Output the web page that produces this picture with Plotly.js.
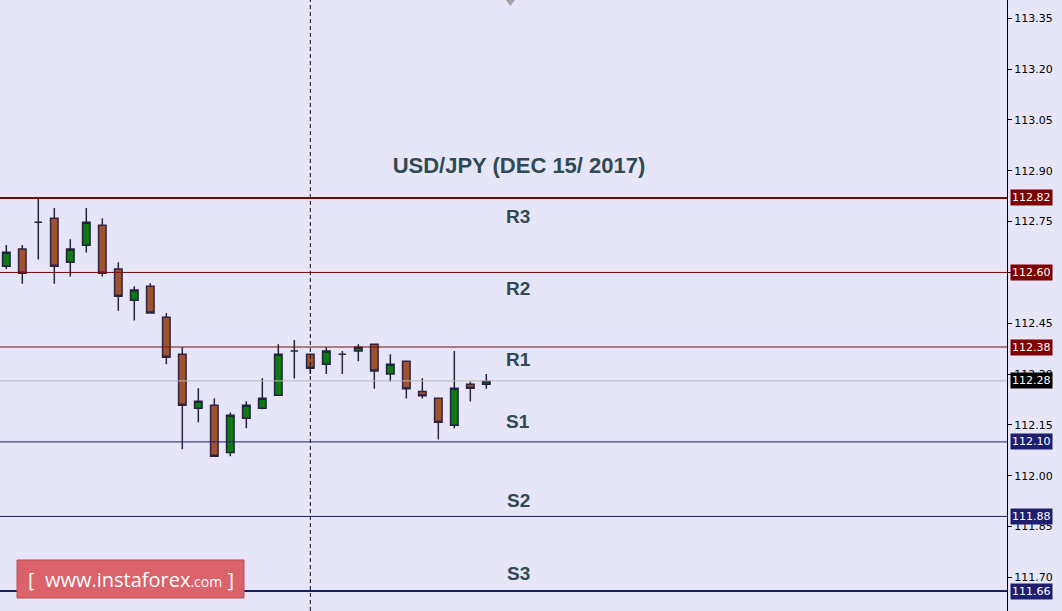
<!DOCTYPE html>
<html>
<head>
<meta charset="utf-8">
<script src="https://cdn.plot.ly/plotly-3.0.1.min.js"></script>
<style>html,body{margin:0;padding:0;background:#e6e6f8;}#chart{width:1062px;height:611px;}</style>
</head>
<body>
<div id="chart"></div>
<script>
// ---- data ----
const candleIndex = [0,1,2,3,4,5,6,7,8,9,10,11,12,13,14,15,16,17,18,19,20,21,22,23,24,25,26,27,28,29,30];
const openVals  = [112.618,112.669,112.748,112.760,112.630,112.680,112.739,112.610,112.518,112.559,112.468,112.359,112.199,112.208,112.069,112.170,112.199,112.238,112.368,112.359,112.329,112.359,112.368,112.388,112.300,112.338,112.249,112.229,112.149,112.270,112.270];
const highVals  = [112.681,112.681,112.817,112.790,112.698,112.790,112.760,112.630,112.559,112.568,112.480,112.379,112.258,112.229,112.187,112.220,112.288,112.388,112.401,112.359,112.379,112.368,112.388,112.388,112.359,112.338,112.288,112.229,112.368,112.278,112.300];
const lowVals   = [112.610,112.567,112.638,112.567,112.588,112.659,112.588,112.487,112.458,112.480,112.329,112.078,112.158,112.058,112.058,112.140,112.196,112.236,112.287,112.300,112.300,112.300,112.338,112.257,112.278,112.228,112.228,112.107,112.140,112.219,112.257];
const closeVals = [112.660,112.598,112.748,112.618,112.669,112.748,112.598,112.530,112.548,112.480,112.350,112.208,112.220,112.058,112.179,112.208,112.229,112.359,112.368,112.317,112.368,112.359,112.379,112.309,112.329,112.257,112.236,112.158,112.258,112.258,112.279];

const levelNames  = ["R3","R2","R1","S1","S2","S3"];
const levelValues = [112.82,112.60,112.38,112.10,111.88,111.66];
const currentPrice = 112.28;
const tickValues = [111.70,111.85,112.00,112.15,112.30,112.45,112.60,112.75,112.90,113.05,113.20,113.35];
const tickLabels = ["111.70","111.85","112.00","112.15","112.30","112.45","112.60","112.75","112.90","113.05","113.20","113.35"];
const markerCandle = 19;
const titleText = "USD/JPY (DEC 15/ 2017)";

// ---- styles ----
const levelColors = ["#6e0a0a","#7a0a0a","#7a0a0a","#1c1c66","#1c1c66","#1c1c66"];
const tagColors   = ["#800000","#800000","#800000","#1e1e6e","#1e1e6e","#1e1e6e"];
const levelWidths = [2,1,1,1,1,2];
const labelShift  = [-19,-16,-12,20,16,18];
const labelColor = "#2f4a52";
const bg = "#e6e6f8";

const shapes = [];
levelValues.forEach((v,i)=>{
  shapes.push({type:"line",xref:"paper",x0:0,x1:1,yref:"y",y0:v,y1:v,
    line:{color:levelColors[i],width:levelWidths[i]}});
});
shapes.push({type:"line",xref:"paper",x0:0,x1:1,yref:"y",y0:currentPrice,y1:currentPrice,
  line:{color:"#b8b8b8",width:1}});
shapes.push({type:"line",xref:"x",x0:markerCandle,x1:markerCandle,yref:"paper",y0:0,y1:1,
  line:{color:"#111",width:1,dash:"4px,3px"}});
// watermark box
shapes.push({type:"rect",xref:"paper",yref:"paper",x0:17/1007,x1:244/1007,y0:1-598/611,y1:1-560/611,
  fillcolor:"#da626b",line:{color:"#c04a55",width:1},layer:"above"});

const annotations = [];
levelValues.forEach((v,i)=>{
  annotations.push({xref:"x",x:32,yref:"y",y:v,yshift:labelShift[i],text:"<b>"+levelNames[i]+"</b>",
    showarrow:false,font:{family:"Liberation Sans, Arial",size:19,color:labelColor},xanchor:"center",yanchor:"middle"});
  annotations.push({xref:"paper",x:1,xanchor:"left",xshift:3,yref:"y",y:v,yanchor:"middle",
    text:v.toFixed(2),showarrow:false,bgcolor:tagColors[i],borderpad:1,
    font:{family:"DejaVu Sans",size:11,color:"#ffffff"}});
});
annotations.push({xref:"paper",x:1,xanchor:"left",xshift:3,yref:"y",y:currentPrice,yanchor:"middle",
  text:currentPrice.toFixed(2),showarrow:false,bgcolor:"#000000",borderpad:1,
  font:{family:"DejaVu Sans",size:11,color:"#ffffff"}});
annotations.push({xref:"paper",x:130.5/1007,yref:"paper",y:1-579/611,xanchor:"center",yanchor:"middle",
  text:"[  www.instaforex<span style='font-size:14px'>.com</span> ]",showarrow:false,
  font:{family:"Open Sans, DejaVu Sans",size:20,color:"#ffffff"}});

const traces = [
  {type:"candlestick",x:candleIndex,open:openVals,high:highVals,low:lowVals,close:closeVals,
    increasing:{fillcolor:"#0e7a12",line:{color:"#22223e",width:1.5}},
    decreasing:{fillcolor:"#a0532e",line:{color:"#2c2442",width:1.5}},
    whiskerwidth:0,hoverinfo:"skip",showlegend:false},
  {type:"scatter",mode:"markers",x:[31.5],y:[113.404],marker:{symbol:"triangle-down",size:12,color:"#a4a4a4"},
    hoverinfo:"skip",showlegend:false}
];

const layout = {
  width:1062,height:611,
  margin:{l:0,r:55,t:0,b:0,pad:0},
  paper_bgcolor:bg,plot_bgcolor:bg,
  showlegend:false,
  title:{text:"<b>"+titleText+"</b>",x:519/1062,xref:"container",xanchor:"center",
    y:1-165/611,yref:"container",yanchor:"middle",
    font:{family:"Liberation Sans, Arial",size:22,color:labelColor}},
  xaxis:{range:[-0.394,62.54],visible:false,showgrid:false,zeroline:false,rangeslider:{visible:false},fixedrange:true},
  yaxis:{side:"right",range:[111.601,113.404],tickvals:tickValues,ticktext:tickLabels,
    showgrid:false,zeroline:false,showline:true,linecolor:"#000",linewidth:1,
    ticks:"outside",ticklen:4,tickcolor:"#000",
    tickfont:{family:"DejaVu Sans",size:11,color:"#000"},fixedrange:true},
  shapes:shapes,annotations:annotations,boxgap:0.33
};

Plotly.newPlot("chart",traces,layout,{staticPlot:true,displayModeBar:false});
</script>
</body>
</html>
